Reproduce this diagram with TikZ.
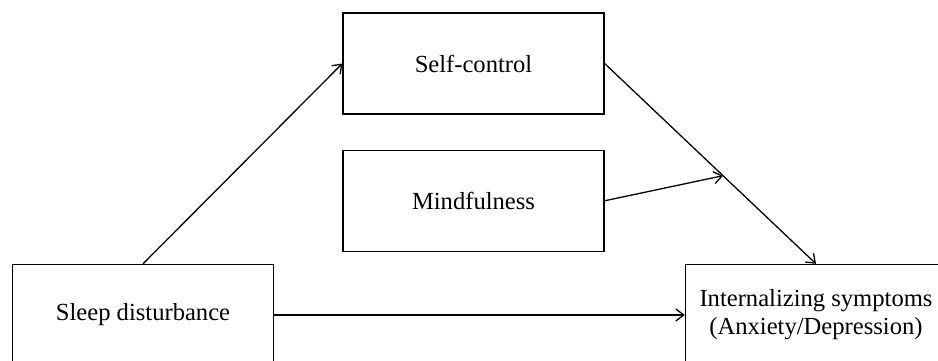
\documentclass[tikz,border=0pt]{standalone}
\usepackage{fontspec}
\setmainfont{Liberation Serif}
\usetikzlibrary{%
    arrows.meta,
    calc,
    positioning
}
\tikzset{headarrow/.style = {-{Straight Barb[length=8pt,width=12pt]}}}
\tikzset{varbox/.style = {draw, line width=1.3pt, minimum width=261pt,
    minimum height=101pt, align=center,
    font=\fontsize{24.6}{28}\selectfont}}

\begin{document}
\begin{tikzpicture}[x=1pt,y=-1pt,line width=1.3pt]
    \useasboundingbox (0,0) rectangle (938,361);
    \clip (0,0) rectangle (938,361);

    \node[varbox] (sleep) at (143,315) {Sleep disturbance};
    \node[varbox] (selfctrl) at (473.5,63.5) {Self-control};
    \node[varbox] (mindful) [below=35pt of selfctrl] {Mindfulness};
    \node[varbox] (intern) at (816,315) {Internalizing symptoms\\(Anxiety/Depression)};
    \coordinate (moderate) at ($(selfctrl.east)!0.56!(intern.north)$);

    \draw[headarrow] (sleep.north) -- (selfctrl.west);
    \draw[headarrow] (selfctrl.east) -- (intern.north);
    \draw[headarrow] (mindful.east) -- (moderate);
    \draw[headarrow] (sleep) -- (intern);
\end{tikzpicture}
\end{document}
